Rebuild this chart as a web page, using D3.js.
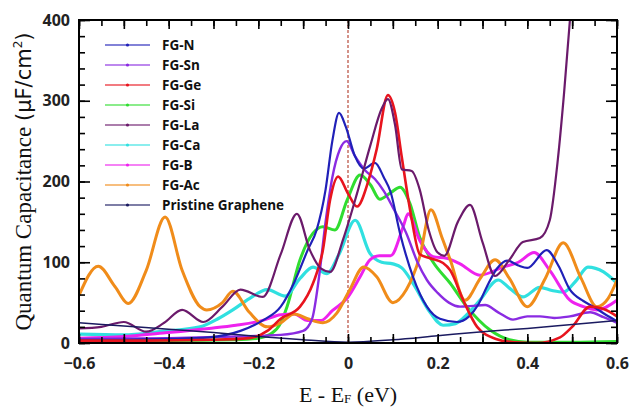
<!DOCTYPE html>
<html>
<head>
<meta charset="utf-8">
<script src="https://cdn.jsdelivr.net/npm/d3@7"></script>
<style>
  body { margin: 0; background: #fff; }
  svg { display: block; }
</style>
</head>
<body>
<div id="container"></div>
<script>
const width = 630;
const height = 408;
const margin = {top: 20, right: 13, bottom: 65, left: 79};

// x = E - Ef (eV), y = quantum capacitance (uF/cm2)
const fgN = [[-0.6,4],[-0.5,4],[-0.4,5],[-0.31,7],[-0.24,15],[-0.19,28],[-0.15,45],[-0.12,75],[-0.09,115],[-0.07,140],[-0.05,190],[-0.035,250],[-0.02,285],[-0.005,268],[0.015,232],[0.035,216],[0.06,223],[0.08,205],[0.095,187],[0.116,136],[0.145,82],[0.176,45],[0.205,30],[0.243,26],[0.27,33],[0.29,47],[0.31,70],[0.332,92],[0.355,102],[0.38,96],[0.4,93],[0.443,115],[0.47,95],[0.495,66],[0.525,52],[0.547,45],[0.575,35],[0.6,27]];
const fgSn = [[-0.6,5],[-0.4,6],[-0.25,8],[-0.15,10],[-0.1,15],[-0.08,30],[-0.065,80],[-0.05,150],[-0.035,205],[-0.018,240],[-0.003,250],[0.015,232],[0.038,214],[0.06,203],[0.08,188],[0.1,168],[0.13,136],[0.155,100],[0.176,78],[0.2,62],[0.225,50],[0.25,45],[0.28,46],[0.306,47],[0.335,38],[0.368,29],[0.4,33],[0.428,33],[0.46,31],[0.495,33],[0.54,38],[0.57,32],[0.6,25]];
const fgGe = [[-0.6,3],[-0.45,3],[-0.3,4],[-0.22,6],[-0.18,15],[-0.15,30],[-0.107,45],[-0.078,74],[-0.056,115],[-0.04,177],[-0.022,206],[0.0,185],[0.02,169],[0.045,200],[0.064,240],[0.089,307],[0.105,285],[0.12,230],[0.14,160],[0.16,110],[0.183,105],[0.212,99],[0.228,90],[0.257,53],[0.288,20],[0.33,5],[0.37,1],[0.42,0],[0.473,7],[0.5,20],[0.54,45],[0.57,42],[0.6,33]];
const fgSi = [[-0.6,3],[-0.4,3],[-0.25,4],[-0.2,6],[-0.17,12],[-0.15,25],[-0.136,45],[-0.107,103],[-0.078,136],[-0.056,144],[-0.029,140],[-0.002,177],[0.027,208],[0.05,196],[0.071,178],[0.095,186],[0.116,193],[0.138,173],[0.16,131],[0.19,100],[0.228,74],[0.265,45],[0.317,16],[0.36,4],[0.4,1],[0.5,1],[0.6,2]];
const fgLa = [[-0.6,18],[-0.55,20],[-0.5,26],[-0.45,14],[-0.41,25],[-0.37,41],[-0.323,26],[-0.28,45],[-0.24,66],[-0.19,57],[-0.15,110],[-0.114,160],[-0.085,115],[-0.06,92],[-0.04,88],[-0.01,130],[0.02,185],[0.05,245],[0.075,290],[0.089,302],[0.105,270],[0.12,215],[0.142,213],[0.16,190],[0.18,140],[0.2,112],[0.215,108],[0.245,150],[0.272,171],[0.3,125],[0.328,83],[0.36,103],[0.39,125],[0.428,130],[0.45,152],[0.468,227],[0.482,310],[0.495,400],[0.505,460]];
const fgCa = [[-0.6,11],[-0.5,10],[-0.42,14],[-0.33,20],[-0.29,30],[-0.257,41],[-0.22,55],[-0.18,66],[-0.14,58],[-0.107,80],[-0.078,94],[-0.047,86],[-0.02,110],[0.016,152],[0.049,111],[0.075,100],[0.1,98],[0.12,93],[0.145,74],[0.183,38],[0.212,22],[0.24,24],[0.265,35],[0.294,53],[0.335,78],[0.36,68],[0.39,57],[0.428,69],[0.455,65],[0.48,63],[0.51,78],[0.535,94],[0.57,88],[0.6,74]];
const fgB = [[-0.6,6],[-0.5,8],[-0.42,12],[-0.31,18],[-0.25,22],[-0.19,28],[-0.15,35],[-0.12,36],[-0.09,28],[-0.06,28],[-0.035,40],[0.0,57],[0.027,82],[0.049,103],[0.07,108],[0.095,108],[0.123,144],[0.134,160],[0.16,127],[0.19,107],[0.22,105],[0.25,98],[0.294,84],[0.346,94],[0.38,100],[0.415,112],[0.45,90],[0.495,53],[0.525,45],[0.555,41],[0.6,53]];
const fgAc = [[-0.6,59],[-0.557,95],[-0.52,70],[-0.49,49],[-0.45,90],[-0.408,156],[-0.37,90],[-0.33,45],[-0.315,41],[-0.28,50],[-0.257,64],[-0.22,38],[-0.18,20],[-0.15,25],[-0.12,36],[-0.09,30],[-0.056,25],[-0.025,37],[0.004,66],[0.035,94],[0.064,82],[0.1,50],[0.13,66],[0.16,107],[0.185,165],[0.21,130],[0.228,103],[0.261,53],[0.295,80],[0.328,103],[0.36,80],[0.4,45],[0.44,80],[0.48,124],[0.52,80],[0.555,45],[0.58,55],[0.6,78]];
const pristine = [[-0.6,25],[-0.5,21],[-0.4,17],[-0.3,13],[-0.2,8],[-0.1,4],[0,1],[0.1,4],[0.2,9],[0.3,14],[0.4,18],[0.5,23],[0.6,28]];

const names = ['FG-N','FG-Sn','FG-Ge','FG-Si','FG-La','FG-Ca','FG-B','FG-Ac','Pristine Graphene'];
const values = [fgN, fgSn, fgGe, fgSi, fgLa, fgCa, fgB, fgAc, pristine];
const colors = ['#2020b8','#8a2be2','#e8141e','#30dd30','#6b1a6b','#30e0e0','#ee22ee','#f08c1a','#1a1a60'];
const widths = [2.2, 2.4, 2.6, 3, 2.2, 3.2, 3, 3, 1.5];
// drawing order (back to front)
const drawOrder = [3, 5, 6, 7, 1, 0, 2, 4, 8];

const xTicks = [-0.6, -0.4, -0.2, 0, 0.2, 0.4, 0.6];
const yTicks = [0, 100, 200, 300, 400];

const svg = d3.select('#container').append('svg')
  .attr('width', width)
  .attr('height', height);

const x = d3.scaleLinear().domain([-0.6, 0.6]).range([margin.left, width - margin.right]);
const y = d3.scaleLinear().domain([0, 400]).range([height - margin.bottom, margin.top]);

svg.append('defs').append('clipPath').attr('id', 'plotclip')
  .append('rect')
  .attr('x', x(-0.6)).attr('y', y(400))
  .attr('width', x(0.6) - x(-0.6)).attr('height', y(0) - y(400));

// dashed Fermi level line
svg.append('line')
  .attr('x1', x(0)).attr('x2', x(0))
  .attr('y1', y(400)).attr('y2', y(0))
  .attr('stroke', '#b84a3a')
  .attr('stroke-width', 1.2)
  .attr('stroke-dasharray', '3,2');

const line = d3.line()
  .x(d => x(d[0]))
  .y(d => y(d[1]))
  .curve(d3.curveMonotoneX);

const curves = svg.append('g').attr('clip-path', 'url(#plotclip)');
drawOrder.forEach(i => {
  curves.append('path')
    .datum(values[i])
    .attr('fill', 'none')
    .attr('stroke', colors[i])
    .attr('stroke-width', widths[i])
    .attr('stroke-linejoin', 'round')
    .attr('d', line);
});

// axes, ticks pointing inward
const minorX = d3.range(-0.6, 0.601, 0.05);
const majorX = d3.range(-0.6, 0.601, 0.1);
const minorY = d3.range(0, 401, 20);

function addAxis(axis, transform) {
  const g = svg.append('g').attr('transform', transform).call(axis);
  g.select('.domain').remove();
  g.selectAll('line').attr('stroke', '#000').attr('stroke-width', 1.6);
  g.selectAll('text')
    .style('font-family', '"Open Sans", sans-serif')
    .style('font-weight', 700)
    .style('font-size', '16px')
    .attr('fill', '#222');
  return g;
}

const bottomY = y(0), topY = y(400), leftX = x(-0.6), rightX = x(0.6);

addAxis(d3.axisBottom(x).tickValues(minorX).tickSize(-6).tickFormat(''), `translate(0,${bottomY})`);
addAxis(d3.axisBottom(x).tickValues(majorX).tickSize(-9).tickFormat(''), `translate(0,${bottomY})`);
addAxis(d3.axisBottom(x).tickValues(xTicks).tickSize(0).tickPadding(15)
  .tickFormat(d => d === 0 ? '0' : d3.format('.1f')(d).replace('-', '\u2212')), `translate(0,${bottomY})`);
addAxis(d3.axisTop(x).tickValues(minorX).tickSize(-6).tickFormat(''), `translate(0,${topY})`);
addAxis(d3.axisTop(x).tickValues(majorX).tickSize(-9).tickFormat(''), `translate(0,${topY})`);

addAxis(d3.axisLeft(y).tickValues(minorY).tickSize(-6).tickFormat(''), `translate(${leftX},0)`);
addAxis(d3.axisLeft(y).tickValues(yTicks).tickSize(-11).tickPadding(9).tickFormat(d3.format('d')), `translate(${leftX},0)`);
addAxis(d3.axisRight(y).tickValues(minorY).tickSize(-6).tickFormat(''), `translate(${rightX},0)`);
addAxis(d3.axisRight(y).tickValues(yTicks).tickSize(-11).tickFormat(''), `translate(${rightX},0)`);

// frame
svg.append('rect')
  .attr('x', leftX).attr('y', topY)
  .attr('width', rightX - leftX).attr('height', bottomY - topY)
  .attr('fill', 'none')
  .attr('stroke', '#000')
  .attr('stroke-width', 2);

// legend
const legend = svg.append('g').attr('transform', 'translate(105,45)');
names.forEach((name, i) => {
  const row = legend.append('g').attr('transform', `translate(0,${i * 20})`);
  row.append('line')
    .attr('x1', 0).attr('x2', 45)
    .attr('stroke', colors[i])
    .attr('stroke-opacity', 0.75)
    .attr('stroke-width', 1.3);
  row.append('circle')
    .attr('cx', 22.5).attr('cy', 0).attr('r', 1.6)
    .attr('fill', colors[i]);
  row.append('text')
    .attr('x', 57).attr('y', 5)
    .text(name)
    .style('font-family', '"Open Sans", sans-serif')
    .style('font-weight', 700)
    .style('font-size', '13.5px')
    .attr('fill', '#111');
});

// axis titles
const yTitle = svg.append('text')
  .attr('transform', `translate(31,${(topY + bottomY) / 2}) rotate(-90)`)
  .attr('text-anchor', 'middle')
  .attr('fill', '#111')
  .style('font-size', '23px');
yTitle.append('tspan').style('font-family', '"Liberation Serif", serif').text('Quantum Capacitance ');
yTitle.append('tspan').style('font-family', '"DejaVu Sans", sans-serif').style('font-size', '21px').text('(\u03bcF/cm');
yTitle.append('tspan').style('font-family', '"DejaVu Sans", sans-serif').style('font-size', '12px').attr('dy', -9).text('2');
yTitle.append('tspan').style('font-family', '"DejaVu Sans", sans-serif').style('font-size', '21px').attr('dy', 9).text(')');

const xTitle = svg.append('text')
  .attr('x', x(0))
  .attr('y', 402)
  .attr('text-anchor', 'middle')
  .attr('fill', '#111')
  .style('font-family', '"Liberation Serif", serif')
  .style('font-size', '22px');
xTitle.append('tspan').text('E - E');
xTitle.append('tspan').style('font-size', '13px').attr('dy', 1).text('F');
xTitle.append('tspan').attr('dy', -1).text(' (eV)');
</script>
</body>
</html>
